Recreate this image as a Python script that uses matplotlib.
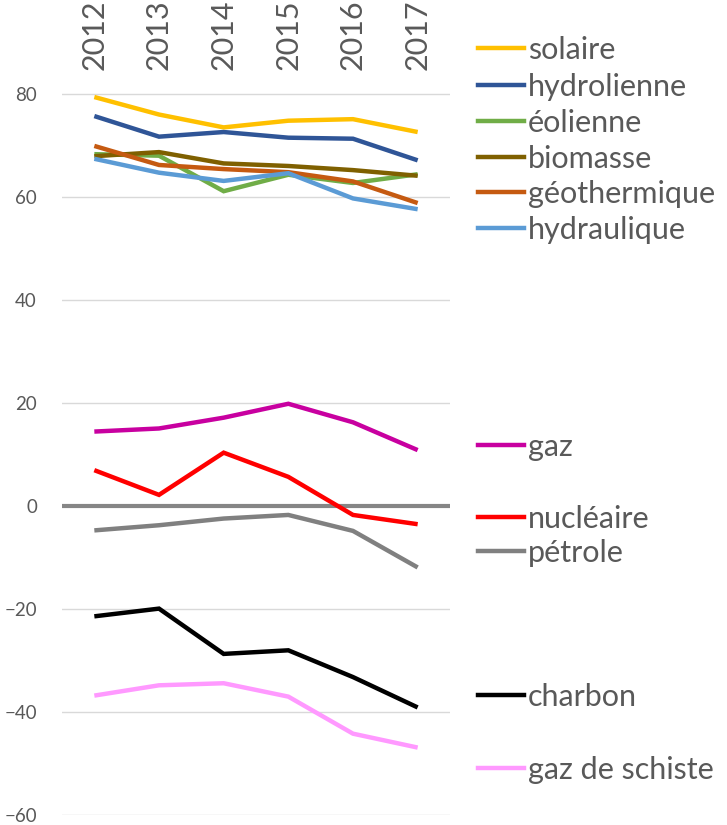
import matplotlib
matplotlib.use("Agg")
import matplotlib.pyplot as plt

years = ["2012", "2013", "2014", "2015", "2016", "2017"]

solaire = [79.5, 76.1, 73.6, 74.9, 75.2, 72.7]
hydrolienne = [75.8, 71.8, 72.7, 71.6, 71.4, 67.2]
eolienne = [68.4, 68.1, 61.2, 64.4, 62.8, 64.5]
biomasse = [68.0, 68.8, 66.6, 66.1, 65.3, 64.2]
geothermique = [70.0, 66.3, 65.5, 64.9, 63.1, 58.9]
hydraulique = [67.5, 64.8, 63.2, 64.7, 59.8, 57.7]
gaz = [14.5, 15.1, 17.2, 19.9, 16.3, 10.9]
nucleaire = [7.0, 2.2, 10.4, 5.7, -1.7, -3.5]
petrole = [-4.7, -3.7, -2.4, -1.7, -4.8, -11.9]
charbon = [-21.4, -19.9, -28.7, -28.0, -33.2, -39.1]
schiste = [-36.8, -34.8, -34.4, -37.0, -44.2, -46.9]

series_names = ["solaire", "hydrolienne", "éolienne", "biomasse", "géothermique",
                "hydraulique", "gaz", "nucléaire", "pétrole", "charbon", "gaz de schiste"]
series_values = [solaire, hydrolienne, eolienne, biomasse, geothermique,
                 hydraulique, gaz, nucleaire, petrole, charbon, schiste]
colors = ["#FFC000", "#2F5597", "#70AD47", "#7F6000", "#C55A11", "#5B9BD5",
          "#C800A0", "#FF0000", "#808080", "#000000", "#FF99FF"]
# legend label vertical positions (figure pixels from top)
legend_y_px = [48, 85, 121, 157, 192, 228, 445, 517, 551, 695, 768]

W, H = 727, 825
fig = plt.figure(figsize=(W / 100, H / 100), dpi=100)
plt.rcParams['font.family'] = ['Lato', 'DejaVu Sans']

ax_left, ax_right, ax_top, ax_bot = 62, 450, 78.5, 815
ax = fig.add_axes([ax_left / W, (H - ax_bot) / H, (ax_right - ax_left) / W, (ax_bot - ax_top) / H])

x = list(range(len(years)))
for vals, c in zip(series_values, colors):
    ax.plot(x, vals, color=c, lw=3.2, solid_capstyle='butt', solid_joinstyle='miter', zorder=3)

ax.set_xlim(-0.5, len(years) - 0.5)
ax.set_ylim(-60, 83.1)
ax.set_yticks([-60, -40, -20, 0, 20, 40, 60, 80])
ax.grid(axis='y', color='#D9D9D9', lw=1.0, zorder=0)
ax.axhline(0, color='#868686', lw=3.0, zorder=2)

ax.xaxis.tick_top()
ax.set_xticks(x)
ax.set_xticklabels(years, rotation=90, fontsize=22, color='#595959')
ax.tick_params(axis='x', length=0, pad=6)
ax.tick_params(axis='y', length=0, pad=18, labelsize=13.5, labelcolor='#595959')
for s in ax.spines.values():
    s.set_visible(False)

# legend
for name, c, yp in zip(series_names, colors, legend_y_px):
    fy = (H - yp) / H
    fig.add_artist(plt.Line2D([478 / W, 524 / W], [fy, fy], color=c, lw=3.2,
                              transform=fig.transFigure))
    fig.text(528 / W, fy - 2 / H, name, fontsize=22, color='#595959', va='center', ha='left')

fig.savefig("out.png", dpi=100)
